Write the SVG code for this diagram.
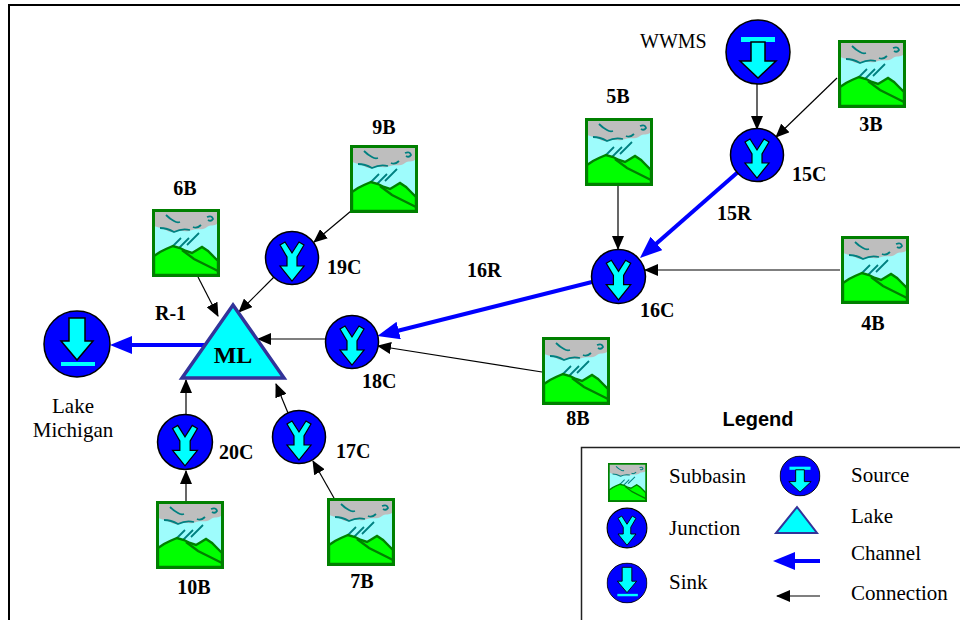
<svg xmlns="http://www.w3.org/2000/svg" width="960" height="620" viewBox="0 0 960 620">
  <style>
    .lbl { font-family: "Liberation Serif", "Times New Roman", serif; font-size: 20px; font-weight: bold; fill: #000; }
    .txt { font-family: "Liberation Serif", "Times New Roman", serif; font-size: 21px; fill: #000; }
    .conn { stroke: #000; stroke-width: 1.2; fill: none; marker-end: url(#conn-head); }
    .chan { stroke: #0000FF; stroke-width: 4; fill: none; marker-end: url(#chan-head); }
    .lake { fill: #00FFFF; stroke: #333399; stroke-linejoin: miter; }
  </style>
  <defs>
    <marker id="conn-head" markerUnits="userSpaceOnUse" markerWidth="14" markerHeight="12" refX="13" refY="6" orient="auto">
      <path d="M0,0 L14,6 L0,12 Z" fill="#000"/>
    </marker>
    <marker id="chan-head" markerUnits="userSpaceOnUse" markerWidth="22" markerHeight="18" refX="10" refY="9" orient="auto">
      <path d="M0,0 L22,9 L0,18 Z" fill="#0000FF"/>
    </marker>
    <!-- subbasin: cloud, rain and hills -->
    <symbol id="subbasin" viewBox="0 0 68 68">
      <rect x="1.5" y="1.5" width="65" height="65" fill="#9EFCFC"/>
      <path d="M2,2 H66 V14 C62,18 58,15 55,18 C50,22 44,19 40,21 C34,24 28,20 22,23 C16,24 12,19 8,19 C5,18 3,17 2,17 Z" fill="#BEBEBE"/>
      <path d="M14,6 Q18,10 22,12 Q25,14 28,13 M8,19 Q15,19 22,23 Q30,19 38,21 M41,18 Q45,20 49,16 M55,8 Q60,6 61,10 Q59,13 56,11" stroke="#008080" stroke-width="1.8" fill="none"/>
      <path d="M19,39 L29,29 M27,39 L37,29 M35,36 L47,24" stroke="#008080" stroke-width="1.8" fill="none"/>
      <path d="M2,47 L8,43 L14,40 L21,37 L28,39 L34,42 L40,44 L45,41 L50,38 L56,42 L62,48 L66,52 V66 H2 Z" fill="#00FF00" stroke="#008000" stroke-width="2.4"/>
      <path d="M30,41 L42,50 L52,55 L66,62" stroke="#008000" stroke-width="2.4" fill="none"/>
      <rect x="1.5" y="1.5" width="65" height="65" fill="none" stroke="#008000" stroke-width="3"/>
    </symbol>
    <!-- junction: blue disc with a Y-shaped arrow -->
    <symbol id="junction" viewBox="-28 -28 56 56">
      <circle r="26.5" fill="#0000FF" stroke="#000" stroke-width="1.5"/>
      <path d="M-12,-13 L-7,-16 L0,-5 L7,-16 L12,-13 L5,-1 L5,8 L12,8 L0,23 L-12,8 L-5,8 L-5,-1 Z" fill="#00FFFF" stroke="#000" stroke-width="1.2" stroke-linejoin="miter"/>
    </symbol>
    <!-- source: blue disc, bar above a downward arrow -->
    <symbol id="source" viewBox="-33 -33 66 66">
      <circle r="32" fill="#0000FF" stroke="#000" stroke-width="1.5"/>
      <rect x="-17" y="-15" width="34" height="5" fill="#00FFFF"/>
      <path d="M-7,-10 H7 V9 H18 L0,26 L-18,9 H-7 Z" fill="#00FFFF" stroke="#000" stroke-width="1.5"/>
    </symbol>
    <!-- sink: blue disc, downward arrow onto a bar -->
    <symbol id="sink" viewBox="-34 -34 68 68">
      <circle r="33" fill="#0000FF" stroke="#000" stroke-width="1.5"/>
      <path d="M-8,-26 H8 V-3 H16 L0,16 L-16,-3 H-8 Z" fill="#00FFFF" stroke="#000" stroke-width="1.5"/>
      <rect x="-16" y="18" width="34" height="4" fill="#00FFFF"/>
    </symbol>
  </defs>

  <rect width="960" height="620" fill="#FFFFFF"/>
  <!-- page frame -->
  <path d="M9,620 V5 H960" fill="none" stroke="#000" stroke-width="2"/>

  <!-- connectors -->
  <g id="connectors">
    <line class="chan" x1="210" y1="345" x2="122" y2="345"/>
    <line class="chan" x1="738" y1="172" x2="649" y2="250"/>
    <line class="chan" x1="592" y1="282" x2="389" y2="333"/>
    <line class="conn" x1="757" y1="84" x2="757" y2="129"/>
    <line class="conn" x1="837" y1="78" x2="776" y2="137"/>
    <line class="conn" x1="618" y1="185" x2="618" y2="249"/>
    <line class="conn" x1="840" y1="270" x2="645" y2="270"/>
    <line class="conn" x1="542" y1="372" x2="378" y2="346"/>
    <line class="conn" x1="351" y1="211" x2="314" y2="242"/>
    <line class="conn" x1="198" y1="277" x2="218" y2="316"/>
    <line class="conn" x1="274" y1="277" x2="239" y2="312"/>
    <line class="conn" x1="326" y1="339" x2="258" y2="339"/>
    <line class="conn" x1="288" y1="413" x2="276" y2="384"/>
    <line class="conn" x1="186" y1="415" x2="186" y2="380"/>
    <line class="conn" x1="186" y1="501" x2="186" y2="471"/>
    <line class="conn" x1="334" y1="498" x2="313" y2="461"/>
  </g>

  <!-- nodes -->
  <g id="node-wwms">
    <use href="#source" x="725" y="19" width="66" height="66"/>
    <text class="txt" x="640" y="48" style="font-size:20px">WWMS</text>
  </g>
  <g id="node-3b">
    <use href="#subbasin" x="838" y="40" width="68" height="68"/>
    <text class="lbl" x="871" y="131" text-anchor="middle">3B</text>
  </g>
  <g id="node-15c">
    <use href="#junction" x="729" y="127" width="56" height="56"/>
    <text class="lbl" x="792" y="181">15C</text>
  </g>
  <g id="label-15r">
    <text class="lbl" x="717" y="220">15R</text>
  </g>
  <g id="node-5b">
    <use href="#subbasin" x="585" y="118" width="68" height="68"/>
    <text class="lbl" x="618" y="103" text-anchor="middle">5B</text>
  </g>
  <g id="node-16c">
    <use href="#junction" x="590" y="248" width="57" height="57"/>
    <text class="lbl" x="640" y="317">16C</text>
  </g>
  <g id="label-16r">
    <text class="lbl" x="467" y="277">16R</text>
  </g>
  <g id="node-4b">
    <use href="#subbasin" x="841" y="236" width="68" height="68"/>
    <text class="lbl" x="873" y="330" text-anchor="middle">4B</text>
  </g>
  <g id="node-8b">
    <use href="#subbasin" x="542" y="337" width="68" height="68"/>
    <text class="lbl" x="578" y="425" text-anchor="middle">8B</text>
  </g>
  <g id="node-18c">
    <use href="#junction" x="324" y="314" width="56" height="56"/>
    <text class="lbl" x="362" y="388">18C</text>
  </g>
  <g id="node-9b">
    <use href="#subbasin" x="350" y="145" width="68" height="68"/>
    <text class="lbl" x="384" y="134" text-anchor="middle">9B</text>
  </g>
  <g id="node-19c">
    <use href="#junction" x="264" y="230" width="56" height="56"/>
    <text class="lbl" x="327" y="274">19C</text>
  </g>
  <g id="node-6b">
    <use href="#subbasin" x="152" y="209" width="68" height="68"/>
    <text class="lbl" x="185" y="195" text-anchor="middle">6B</text>
  </g>
  <g id="node-ml">
    <polygon class="lake" points="233,305 284,378 182,378" stroke-width="3.5"/>
    <text class="lbl" x="233" y="363" text-anchor="middle" style="font-size:24px">ML</text>
  </g>
  <g id="label-r1">
    <text class="lbl" x="155" y="320">R-1</text>
  </g>
  <g id="node-lake-michigan">
    <use href="#sink" x="43" y="310" width="68" height="68"/>
    <text class="txt" x="73" y="413" text-anchor="middle">Lake</text>
    <text class="txt" x="73" y="437" text-anchor="middle">Michigan</text>
  </g>
  <g id="node-20c">
    <use href="#junction" x="156" y="413" width="58" height="58"/>
    <text class="lbl" x="219" y="459">20C</text>
  </g>
  <g id="node-10b">
    <use href="#subbasin" x="156" y="501" width="68" height="68"/>
    <text class="lbl" x="194" y="594" text-anchor="middle">10B</text>
  </g>
  <g id="node-17c">
    <use href="#junction" x="271" y="409" width="56" height="56"/>
    <text class="lbl" x="336" y="458">17C</text>
  </g>
  <g id="node-7b">
    <use href="#subbasin" x="327" y="498" width="68" height="68"/>
    <text class="lbl" x="362" y="588" text-anchor="middle">7B</text>
  </g>

  <!-- legend -->
  <g id="legend">
    <text x="758" y="426" text-anchor="middle" style="font-family:'Liberation Sans', Arial, sans-serif; font-size:20px; font-weight:bold">Legend</text>
    <path d="M581.5,620 V447.5 H960" fill="none" stroke="#222" stroke-width="1.5"/>
    <use href="#subbasin" x="607" y="463" width="41" height="39"/>
    <text class="txt" x="669" y="483">Subbasin</text>
    <use href="#junction" x="606" y="507" width="42" height="42"/>
    <text class="txt" x="669" y="535">Junction</text>
    <use href="#sink" x="606.5" y="562.5" width="41" height="41"/>
    <text class="txt" x="669" y="589">Sink</text>
    <use href="#source" x="779.5" y="455.5" width="41" height="41"/>
    <text class="txt" x="851" y="482">Source</text>
    <polygon class="lake" points="797,507 817,533 776,533" stroke-width="2"/>
    <text class="txt" x="851" y="523">Lake</text>
    <line class="chan" x1="820" y1="561" x2="785" y2="561"/>
    <text class="txt" x="851" y="560">Channel</text>
    <line class="conn" x1="820" y1="596" x2="777" y2="596"/>
    <text class="txt" x="851" y="600">Connection</text>
  </g>
</svg>
